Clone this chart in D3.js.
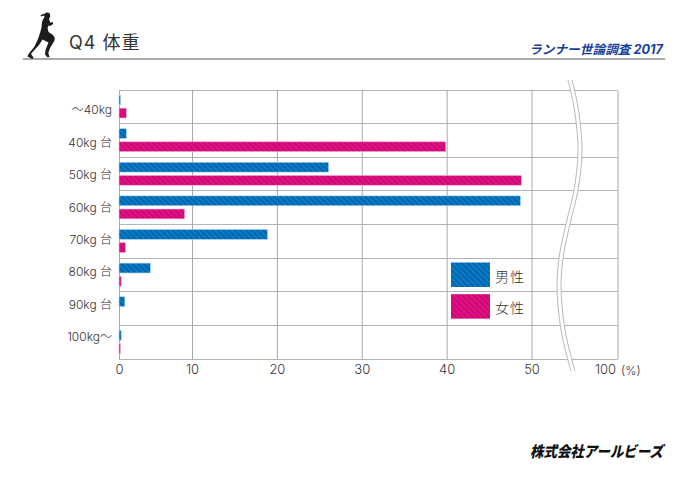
<!DOCTYPE html>
<html>
<head>
<meta charset="utf-8">
<script src="https://cdn.jsdelivr.net/npm/d3@7"></script>
<style>
  html, body { margin: 0; padding: 0; background: #fff; }
  svg { display: block; }
  text { font-family: Inter, "Noto Sans CJK JP", sans-serif; fill: #333; }
</style>
</head>
<body>
<div id="chart"></div>
<script>
var categories = ['～40kg', '40kg 台', '50kg 台', '60kg 台', '70kg 台', '80kg 台', '90kg 台', '100kg～'];
var male = [0.2, 1.0, 26.1, 48.7, 18.9, 4.3, 0.8, 0.3];
var female = [1.0, 39.9, 48.8, 9.0, 0.9, 0.3, 0, 0.2];
var seriesNames = ['男性', '女性'];
var tickValues = [0, 10, 20, 30, 40, 50, 100];

var width = 688, height = 487;
var svg = d3.select('#chart').append('svg').attr('width', width).attr('height', height);

// hatched fills
var defs = svg.append('defs');
function hatch(id, base, stripe) {
  var p = defs.append('pattern').attr('id', id).attr('patternUnits', 'userSpaceOnUse')
    .attr('width', 4).attr('height', 4).attr('patternTransform', 'rotate(45)');
  p.append('rect').attr('width', 4).attr('height', 4).attr('fill', base);
  p.append('rect').attr('width', 4).attr('height', 1.8).attr('fill', stripe);
}
hatch('hatchMale', '#0a7cc8', '#0062aa');
hatch('hatchFemale', '#ec0a84', '#bd0f72');
var fills = ['url(#hatchMale)', 'url(#hatchFemale)'];
var edges = ['#a9d3ee', '#f6b5d8'];

// the axis is not linear: first decade is shorter, 50-100 is cut by the wave
var x = d3.scaleLinear().domain([0, 10, 50, 100]).range([119, 192, 531.5, 617.5]);
var y = d3.scaleBand().domain(categories).range([90, 359]);
var inner = d3.scaleBand().domain([0, 1]).range([5, 28]).paddingInner(0.25);
// labels are spaced a little tighter than the rows
var labelY = d3.scalePoint().domain(categories).range([110, 337]);

var yAxis = svg.append('g').attr('transform', 'translate(119,0)')
  .call(d3.axisLeft(labelY).tickSize(0).tickPadding(7));
yAxis.select('.domain').remove();
yAxis.selectAll('text').style('font-size', '12px').attr('dy', '0.32em').style('font-weight', 300);

svg.append('g').selectAll('line').data(d3.range(categories.length + 1)).enter().append('line')
  .attr('x1', 119).attr('x2', 617.5)
  .attr('y1', function (d) { return 90.5 + Math.floor(d * y.step()); })
  .attr('y2', function (d) { return 90.5 + Math.floor(d * y.step()); })
  .attr('stroke', '#b4b4b4').attr('stroke-width', 1);

var xAxis = svg.append('g').attr('transform', 'translate(0,359.5)')
  .call(d3.axisBottom(x).tickValues(tickValues).tickFormat(d3.format('d')).tickSize(-269).tickPadding(5));
xAxis.select('.domain').remove();
xAxis.selectAll('line').attr('stroke', '#a8a8a8');
xAxis.selectAll('text').style('font-size', '13px').style('font-weight', 300);
xAxis.selectAll('.tick').filter(function (d) { return d === 100; }).select('text').attr('dx', -12.5);
svg.append('text').attr('x', 621).attr('y', 375).style('font-size', '12px').style('font-weight', 300).text('(%)');

// wave break over the grid
var waveLeft = [[568, 80], [574.5, 110], [578, 152], [574, 190], [566, 224], [559.5, 255], [557, 285], [561, 330], [571, 371]];
var wave = d3.line().curve(d3.curveCatmullRom.alpha(0.5));
var shifted = function (dx) { return waveLeft.map(function (p) { return [p[0] + dx, p[1]]; }); };
svg.append('path').attr('d', wave(shifted(2))).attr('fill', 'none').attr('stroke', '#fff').attr('stroke-width', 4);
[0, 4].forEach(function (dx) {
  svg.append('path').attr('d', wave(shifted(dx))).attr('fill', 'none').attr('stroke', '#b8b8b8').attr('stroke-width', 1);
});

// bars
[male, female].forEach(function (values, s) {
  var rows = categories.map(function (c, i) { return { category: c, value: values[i] }; })
    .filter(function (d) { return d.value > 0; });
  svg.append('g').selectAll('rect').data(rows).enter().append('rect')
    .attr('x', x(0))
    .attr('y', function (d) { return y(d.category) + inner(s); })
    .attr('width', function (d) { return Math.max(x(d.value) - x(0), 1.5); })
    .attr('height', inner.bandwidth())
    .attr('fill', fills[s]).attr('stroke', edges[s]).attr('stroke-width', 0.6);
});

// legend
var legendY = d3.scaleBand().domain(seriesNames).range([262.5, 319.5]).paddingInner(0.2);
var legend = svg.append('g').selectAll('g').data(seriesNames).enter().append('g')
  .attr('transform', function (d) { return 'translate(451,' + legendY(d) + ')'; });
legend.append('rect').attr('width', 39).attr('height', 24.5)
  .attr('fill', function (d, i) { return fills[i]; });
legend.append('text').attr('x', 44).attr('y', 19).style('font-size', '14px').style('font-weight', 300)
  .style('letter-spacing', '1px').text(function (d) { return d; });

// header
svg.append('line').attr('x1', 23).attr('x2', 665).attr('y1', 59).attr('y2', 59)
  .attr('stroke', '#8c8c8c').attr('stroke-width', 1.5);
svg.append('text').attr('x', 69).attr('y', 49).style('font-size', '18px').style('font-weight', 400)
  .style('letter-spacing', '1px').text('Q4 体重');
svg.append('text').attr('x', 529).attr('y', 54).attr('textLength', 134).attr('lengthAdjust', 'spacingAndGlyphs')
  .style('font-size', '12.5px').style('font-weight', 700).style('font-style', 'italic')
  .style('fill', '#173f9a').text('ランナー世論調査 2017');

// runner
svg.append('path').attr('fill', '#1c1c1c')
  .attr('d', 'M44.5 14Q47 11.5 49.8 13.5L50.3 16.5L49 19L49.5 20.5L50.5 22.8L53 22L53 24L50.3 26L48.6 25.5L47.5 28L48.5 32L53 35L54.8 38L54.3 41L50 48L48.3 53L49.5 57L47.6 57.5L45 54.5L45.5 50L48.5 42.5L42.5 39.5L39 45L33.5 51L31 54L33.5 57.5L32.5 59L27.5 56.5L28.5 54L34.5 46.5L38 39L40 33L41.5 27.5L42 22L43.5 18.5L44.6 17L43.8 15.5L41 16.5L40.5 15.5L43 14Z');

// footer
svg.append('text').attr('x', 530).attr('y', 457).attr('textLength', 133).attr('lengthAdjust', 'spacingAndGlyphs')
  .style('font-size', '15px').style('font-weight', 900).style('font-style', 'italic')
  .style('fill', '#111').text('株式会社アールビーズ');
</script>
</body>
</html>
